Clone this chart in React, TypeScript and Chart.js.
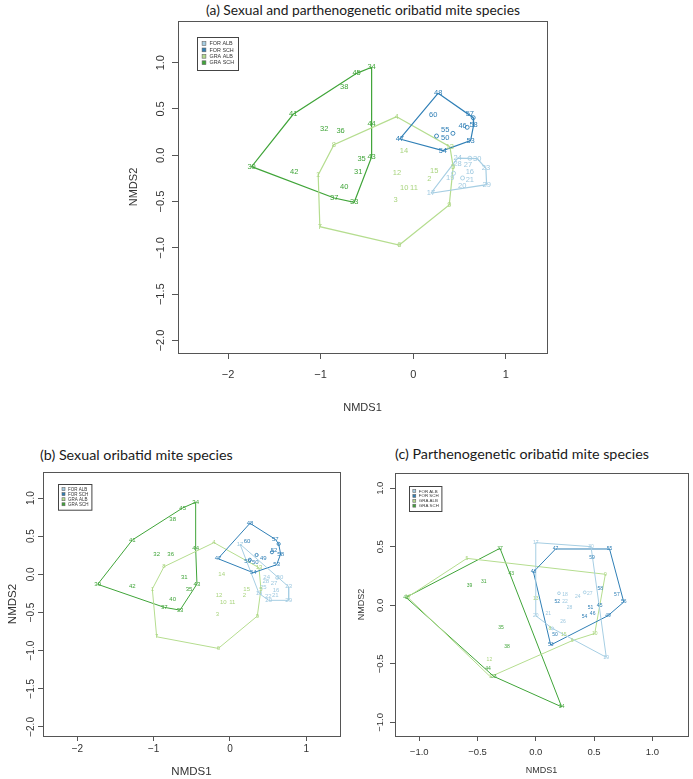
import React, { useEffect, useRef } from "react";
import { Chart, registerables } from "chart.js";
Chart.register(...registerables);

// ---------- groups ----------
const GROUP_NAMES = ["FOR ALB", "FOR SCH", "GRA ALB", "GRA SCH"];
const LINE_COLORS = ["#a6cee3", "#2f7fb6", "#b5dd8f", "#3fa438"];
const TEXT_COLORS = ["#9fc9e0", "#2f7fb6", "#a9d47f", "#3fa438"];

// ---------- panel (a): all species ----------
const A_FA_ID = ["24", "30", "23", "29", "17", "28", "27", "16", "21", "20", "19", "o1", "o2", "o3"];
const A_FA_X = [0.48, 0.691, 0.785, 0.793, 0.191, 0.479, 0.591, 0.612, 0.612, 0.529, 0.4, 0.612, 0.533, 0.436];
const A_FA_Y = [-0.03, -0.036, -0.141, -0.317, -0.41, -0.094, -0.108, -0.184, -0.267, -0.328, -0.249, -0.032, -0.245, -0.194];
const A_FA_HULL = ["17", "24", "30", "23", "29"];

const A_FS_ID = ["48", "60", "57", "46", "58", "55", "50", "53", "54", "47", "o1", "o2", "o3", "o4"];
const A_FS_X = [0.27, 0.216, 0.612, 0.533, 0.652, 0.346, 0.345, 0.62, 0.32, -0.144, 0.648, 0.429, 0.252, 0.583];
const A_FS_Y = [0.67, 0.432, 0.446, 0.316, 0.324, 0.273, 0.183, 0.158, 0.05, 0.176, 0.406, 0.237, 0.208, 0.302];
const A_FS_HULL = ["48", "o1", "58", "53", "54", "47"];

const A_GA_ID = ["4", "8", "1", "7", "6", "9", "5", "13", "14", "12", "15", "2", "10", "11", "3"];
const A_GA_X = [-0.179, -0.856, -1.026, -1.008, -0.151, 0.389, 0.432, 0.396, -0.1, -0.176, 0.227, 0.173, -0.097, 0.008, -0.19];
const A_GA_Y = [0.417, 0.115, -0.213, -0.771, -0.969, -0.537, -0.123, 0.093, 0.046, -0.188, -0.166, -0.256, -0.357, -0.357, -0.486];
const A_GA_HULL = ["4", "13", "5", "9", "6", "7", "1", "8"];

const A_GS_ID = ["34", "45", "38", "41", "32", "36", "44", "43", "35", "31", "39", "42", "40", "37", "33"];
const A_GS_X = [-0.449, -0.611, -0.745, -1.296, -0.961, -0.784, -0.449, -0.449, -0.557, -0.594, -1.745, -1.285, -0.745, -0.853, -0.637];
const A_GS_Y = [0.95, 0.885, 0.738, 0.443, 0.284, 0.262, 0.341, -0.018, -0.043, -0.177, -0.123, -0.184, -0.342, -0.461, -0.508];
const A_GS_HULL = ["34", "45", "41", "39", "37", "33", "43", "44"];

// ---------- panel (b): sexual species ----------
const B_FA_ID = ["17", "24", "30", "28", "27", "23", "16", "25", "19", "22", "21", "20", "29", "o1"];
const B_FA_X = [0.131, 0.481, 0.655, 0.47, 0.577, 0.769, 0.603, 0.437, 0.38, 0.502, 0.594, 0.507, 0.769, 0.62];
const B_FA_Y = [0.397, -0.045, -0.045, -0.09, -0.118, -0.163, -0.206, -0.171, -0.249, -0.285, -0.281, -0.341, -0.341, -0.045];
const B_FA_HULL = ["17", "23", "29", "20", "19"];

const B_FS_ID = ["48", "60", "57", "52", "58", "49", "50", "59", "53", "54", "47", "o1", "o2", "o3", "o4"];
const B_FS_X = [0.262, 0.223, 0.594, 0.577, 0.664, 0.437, 0.332, 0.232, 0.612, 0.305, -0.157, 0.638, 0.55, 0.349, 0.26];
const B_FS_Y = [0.669, 0.437, 0.459, 0.319, 0.266, 0.21, 0.152, 0.166, 0.126, 0.021, 0.205, 0.398, 0.29, 0.253, 0.19];
const B_FS_HULL = ["48", "57", "o1", "58", "53", "54", "47"];

const B_GA_ID = ["4", "8", "1", "7", "6", "9", "5", "13", "14", "15", "12", "2", "10", "11", "3"];
const B_GA_X = [-0.21, -0.865, -1.018, -0.961, -0.153, 0.358, 0.406, 0.38, -0.109, 0.219, -0.144, 0.188, -0.087, 0.03, -0.166];
const B_GA_Y = [0.415, 0.1, -0.193, -0.819, -0.971, -0.547, -0.193, 0.087, 0.0, -0.193, -0.281, -0.281, -0.368, -0.368, -0.525];
const B_GA_HULL = ["4", "13", "5", "9", "6", "7", "1", "8"];

const B_GS_ID = ["34", "45", "38", "41", "32", "36", "44", "31", "43", "35", "39", "42", "40", "37", "33"];
const B_GS_X = [-0.45, -0.62, -0.751, -1.28, -0.961, -0.777, -0.45, -0.599, -0.433, -0.537, -1.734, -1.28, -0.751, -0.861, -0.655];
const B_GS_Y = [0.945, 0.87, 0.722, 0.45, 0.266, 0.262, 0.341, -0.039, -0.127, -0.193, -0.131, -0.154, -0.328, -0.433, -0.469];
const B_GS_HULL = ["34", "45", "41", "39", "37", "33", "43", "44"];

// ---------- panel (c): parthenogenetic species ----------
const C_FA_ID = ["17", "30", "29", "20", "18", "24", "27", "22", "28", "21", "26", "o1", "o2", "o3"];
const C_FA_X = [0.0, 0.474, 0.605, 0.0, 0.25, 0.361, 0.463, 0.25, 0.29, 0.108, 0.233, 0.199, 0.42, 0.142];
const C_FA_Y = [0.535, 0.501, -0.444, -0.089, 0.094, 0.074, 0.103, 0.031, -0.02, -0.074, -0.14, 0.103, 0.111, -0.197];
const C_FA_HULL = ["17", "30", "29", "o3", "20"];

const C_FS_ID = ["47", "55", "59", "48", "58", "57", "56", "52", "51", "45", "46", "54", "49", "50", "53"];
const C_FS_X = [0.17, 0.633, 0.483, -0.02, 0.554, 0.696, 0.755, 0.184, 0.469, 0.548, 0.488, 0.418, 0.619, 0.165, 0.128];
const C_FS_Y = [0.481, 0.481, 0.407, 0.285, 0.145, 0.094, 0.028, 0.031, -0.017, -0.006, -0.068, -0.097, -0.089, -0.248, -0.339];
const C_FS_HULL = ["47", "55", "56", "49", "53", "48"];

const C_GA_ID = ["5", "9", "10", "6", "1", "14", "12", "13", "15", "8"];
const C_GA_X = [-0.591, 0.597, 0.506, 0.312, -0.39, -1.1, -0.398, 0.0, 0.241, 0.12];
const C_GA_Y = [0.401, 0.265, -0.24, -0.302, -0.61, 0.07, -0.462, 0.054, -0.254, -0.2];
const C_GA_HULL = ["5", "9", "10", "6", "1", "14"];

const C_GS_ID = ["37", "43", "39", "31", "35", "38", "44", "33", "34", "42"];
const C_GS_X = [-0.307, -0.211, -0.569, -0.447, -0.298, -0.247, -0.409, -0.361, 0.222, -1.114];
const C_GS_Y = [0.487, 0.274, 0.168, 0.202, -0.191, -0.354, -0.538, -0.607, -0.867, 0.068];
const C_GS_HULL = ["37", "34", "33", "42"];

// ---------- tick labels ----------
const X_TICKS_AB = [-2, -1, 0, 1];
const Y_TICKS_AB = [-2, -1.5, -1, -0.5, 0, 0.5, 1];
const X_TICKS_C = [-1, -0.5, 0, 0.5, 1];
const Y_TICKS_C = [-1, -0.5, 0, 0.5, 1];

const TITLE_A = "(a) Sexual and parthenogenetic oribatid mite species";
const TITLE_B = "(b) Sexual oribatid mite species";
const TITLE_C = "(c) Parthenogenetic oribatid mite species";

const AXIS_COLOR = "#555";
const TEXT_COLOR = "#333";
const SANS = "'Liberation Sans', Arial, sans-serif";

function fmt(v: number, dec: number) {
  const r = Math.abs(v) < 1e-9 ? 0 : v;
  return r.toFixed(dec).replace("-", "\u2212");
}

type Group = { ids: string[]; xs: number[]; ys: number[]; hull: string[] };
const grp = (ids: string[], xs: number[], ys: number[], hull: string[]): Group => ({ ids, xs, ys, hull });

const PANEL_A = {
  canvas: { left: 100, top: 0, width: 500, height: 420 },
  pad: { left: 20, top: 21, right: 53, bottom: 0 },
  yAxisWidth: 58, xAxisHeight: 67,
  xMin: -2.54, xMax: 1.445, yMin: -2.135, yMax: 1.45,
  xTicks: X_TICKS_AB, yTicks: Y_TICKS_AB, xDec: 0, yDec: 1,
  tickSize: 11, tickLen: 6, xTickPad: 9, yLabelOffset: 17.5,
  titleSize: 11, yTitlePad: 7.4, xTitlePad: 5.4,
  labelSize: 7.5, lineWidth: 1.2, markerR: 2,
  legend: { dx: 19, dy: 16, w: 41, h: 33, size: 5.4, top0: 6.5, step: 6.4, sqX: 7, sqS: 3.8, textX: 12.5 },
  groups: [
    grp(A_FA_ID, A_FA_X, A_FA_Y, A_FA_HULL),
    grp(A_FS_ID, A_FS_X, A_FS_Y, A_FS_HULL),
    grp(A_GA_ID, A_GA_X, A_GA_Y, A_GA_HULL),
    grp(A_GS_ID, A_GS_X, A_GS_Y, A_GS_HULL),
  ],
};

const PANEL_B = {
  canvas: { left: 0, top: 465, width: 350, height: 314 },
  pad: { left: 2, top: 7, right: 10, bottom: 0 },
  yAxisWidth: 41, xAxisHeight: 43,
  xMin: -2.451, xMax: 1.442, yMin: -2.119, yMax: 1.341,
  xTicks: X_TICKS_AB, yTicks: Y_TICKS_AB, xDec: 0, yDec: 1,
  tickSize: 10, tickLen: 5, xTickPad: 2, yLabelOffset: 11.5,
  titleSize: 11.5, yTitlePad: 3.8, xTitlePad: 0.4,
  labelSize: 6, lineWidth: 1, markerR: 1.6,
  legend: { dx: 15.3, dy: 12.3, w: 33.4, h: 25.7, size: 4.5, top0: 5.1, step: 5.05, sqX: 5.5, sqS: 3, textX: 10 },
  groups: [
    grp(B_FA_ID, B_FA_X, B_FA_Y, B_FA_HULL),
    grp(B_FS_ID, B_FS_X, B_FS_Y, B_FS_HULL),
    grp(B_GA_ID, B_GA_X, B_GA_Y, B_GA_HULL),
    grp(B_GS_ID, B_GS_X, B_GS_Y, B_GS_HULL),
  ],
};

const PANEL_C = {
  canvas: { left: 350, top: 465, width: 343, height: 314 },
  pad: { left: 3, top: 8, right: 3, bottom: 0 },
  yAxisWidth: 42, xAxisHeight: 43,
  xMin: -1.208, xMax: 1.307, yMin: -1.116, yMax: 1.13,
  xTicks: X_TICKS_C, yTicks: Y_TICKS_C, xDec: 1, yDec: 1,
  tickSize: 9.5, tickLen: 5, xTickPad: 6, yLabelOffset: 15,
  titleSize: 9, yTitlePad: 3.3, xTitlePad: 2.6,
  labelSize: 5, lineWidth: 1, markerR: 1.4,
  legend: { dx: 14.3, dy: 13, w: 32.4, h: 25, size: 4.4, top0: 5, step: 4.9, sqX: 5.3, sqS: 2.9, textX: 9.8 },
  groups: [
    grp(C_FA_ID, C_FA_X, C_FA_Y, C_FA_HULL),
    grp(C_FS_ID, C_FS_X, C_FS_Y, C_FS_HULL),
    grp(C_GA_ID, C_GA_X, C_GA_Y, C_GA_HULL),
    grp(C_GS_ID, C_GS_X, C_GS_Y, C_GS_HULL),
  ],
};

function makePlugin(cfg: any) {
  return {
    id: "panelDecor",
    afterDatasetsDraw(chart: any) {
      const ctx = chart.ctx;
      chart.data.datasets.forEach((ds: any, di: number) => {
        if (!ds.isPoints) return;
        const meta = chart.getDatasetMeta(di);
        ctx.save();
        ctx.font = `${cfg.labelSize}px ${SANS}`;
        ctx.fillStyle = ds.textColor;
        ctx.textAlign = "center";
        ctx.textBaseline = "middle";
        meta.data.forEach((el: any, j: number) => {
          const id = ds.data[j].id as string;
          if (id.startsWith("o")) return;
          ctx.fillText(id, el.x, el.y);
        });
        ctx.restore();
      });
    },
    afterDraw(chart: any) {
      const { ctx, chartArea: a } = chart;
      ctx.save();
      ctx.strokeStyle = AXIS_COLOR;
      ctx.lineWidth = 1;
      ctx.strokeRect(Math.round(a.left) + 0.5, Math.round(a.top) + 0.5, Math.round(a.right - a.left), Math.round(a.bottom - a.top));
      // rotated y tick labels
      const ys = chart.scales.y;
      ctx.font = `${cfg.tickSize}px ${SANS}`;
      ctx.fillStyle = TEXT_COLOR;
      ctx.textAlign = "center";
      ctx.textBaseline = "middle";
      cfg.yTicks.forEach((v: number) => {
        const py = ys.getPixelForValue(v);
        ctx.save();
        ctx.translate(a.left - cfg.yLabelOffset, py);
        ctx.rotate(-Math.PI / 2);
        ctx.fillText(fmt(v, cfg.yDec), 0, 0);
        ctx.restore();
      });
      // legend
      const L = cfg.legend;
      const lx = Math.round(a.left + L.dx);
      const ly = Math.round(a.top + L.dy);
      ctx.fillStyle = "#fff";
      ctx.fillRect(lx, ly, L.w, L.h);
      ctx.strokeStyle = "#444";
      ctx.lineWidth = 1;
      ctx.strokeRect(lx + 0.5, ly + 0.5, L.w, L.h);
      ctx.font = `${L.size}px ${SANS}`;
      ctx.textAlign = "left";
      ctx.textBaseline = "middle";
      GROUP_NAMES.forEach((name, i) => {
        const cy = ly + L.top0 + i * L.step;
        ctx.fillStyle = LINE_COLORS[i];
        ctx.fillRect(lx + L.sqX - L.sqS / 2, cy - L.sqS / 2, L.sqS, L.sqS);
        ctx.strokeStyle = "#666";
        ctx.lineWidth = 0.6;
        ctx.strokeRect(lx + L.sqX - L.sqS / 2, cy - L.sqS / 2, L.sqS, L.sqS);
        ctx.fillStyle = TEXT_COLOR;
        ctx.fillText(name, lx + L.textX, cy + 0.3);
      });
      ctx.restore();
    },
  };
}

function buildDatasets(cfg: any) {
  const out: any[] = [];
  cfg.groups.forEach((g: Group, gi: number) => {
    const pts = g.ids.map((id, i) => ({ x: g.xs[i], y: g.ys[i], id }));
    const hull = g.hull.map((id) => pts.find((p) => p.id === id)!).filter(Boolean);
    if (hull.length) hull.push(hull[0]);
    out.push({
      data: hull,
      showLine: true,
      borderColor: LINE_COLORS[gi],
      borderWidth: cfg.lineWidth,
      pointRadius: 0,
      fill: false,
      tension: 0,
    });
    out.push({
      data: pts,
      showLine: false,
      isPoints: true,
      textColor: TEXT_COLORS[gi],
      pointStyle: "circle",
      pointRadius: pts.map((p) => (p.id.startsWith("o") ? cfg.markerR : 0)),
      borderColor: LINE_COLORS[gi],
      backgroundColor: "rgba(0,0,0,0)",
      borderWidth: 0.9,
    });
  });
  return out;
}

function PanelChart({ cfg }: { cfg: any }) {
  const ref = useRef<HTMLCanvasElement>(null);
  useEffect(() => {
    if (!ref.current) return;
    const chart = new Chart(ref.current, {
      type: "scatter",
      data: { datasets: buildDatasets(cfg) },
      options: {
        animation: false,
        responsive: false,
        maintainAspectRatio: false,
        events: [],
        layout: { padding: cfg.pad },
        plugins: { legend: { display: false }, tooltip: { enabled: false }, title: { display: false } },
        scales: {
          x: {
            type: "linear",
            min: cfg.xMin,
            max: cfg.xMax,
            afterBuildTicks: (s: any) => {
              s.ticks = cfg.xTicks.map((v: number) => ({ value: v }));
            },
            afterFit: (s: any) => {
              s.height = cfg.xAxisHeight;
            },
            grid: { display: true, drawOnChartArea: false, drawTicks: true, tickLength: cfg.tickLen, color: AXIS_COLOR, lineWidth: 1 },
            border: { display: false },
            ticks: {
              autoSkip: false,
              maxRotation: 0,
              minRotation: 0,
              padding: cfg.xTickPad,
              color: TEXT_COLOR,
              font: { family: SANS, size: cfg.tickSize },
              callback: (v: any) => fmt(Number(v), cfg.xDec),
            },
            title: {
              display: true,
              text: "NMDS1",
              color: TEXT_COLOR,
              font: { family: SANS, size: cfg.titleSize },
              padding: { top: 0, bottom: cfg.xTitlePad },
            },
          },
          y: {
            type: "linear",
            min: cfg.yMin,
            max: cfg.yMax,
            afterBuildTicks: (s: any) => {
              s.ticks = cfg.yTicks.map((v: number) => ({ value: v }));
            },
            afterFit: (s: any) => {
              s.width = cfg.yAxisWidth;
            },
            grid: { display: true, drawOnChartArea: false, drawTicks: true, tickLength: cfg.tickLen, color: AXIS_COLOR, lineWidth: 1 },
            border: { display: false },
            ticks: { display: false },
            title: {
              display: true,
              text: "NMDS2",
              color: TEXT_COLOR,
              font: { family: SANS, size: cfg.titleSize },
              padding: { top: cfg.yTitlePad, bottom: 0 },
            },
          },
        },
      },
      plugins: [makePlugin(cfg)],
    } as any);
    return () => chart.destroy();
  }, [cfg]);
  const c = cfg.canvas;
  return (
    <canvas
      ref={ref}
      width={c.width}
      height={c.height}
      style={{ position: "absolute", left: c.left, top: c.top, width: c.width, height: c.height }}
    />
  );
}

const titleFont = "Lato, 'Open Sans', sans-serif";

export default function App() {
  return (
    <div style={{ position: "absolute", left: 0, top: 0, width: 693, height: 779, overflow: "hidden", background: "#fff" }}>
      <div style={{ position: "absolute", left: 363, top: 1, transform: "translateX(-50%)", whiteSpace: "nowrap", fontFamily: titleFont, fontSize: 13.8, color: "#1a1a1a" }}>
        {TITLE_A}
      </div>
      <div style={{ position: "absolute", left: 40, top: 446, whiteSpace: "nowrap", fontFamily: titleFont, fontSize: 14.3, color: "#1a1a1a" }}>
        {TITLE_B}
      </div>
      <div style={{ position: "absolute", left: 395, top: 445, whiteSpace: "nowrap", fontFamily: titleFont, fontSize: 14.3, color: "#1a1a1a" }}>
        {TITLE_C}
      </div>
      <PanelChart cfg={PANEL_A} />
      <PanelChart cfg={PANEL_B} />
      <PanelChart cfg={PANEL_C} />
    </div>
  );
}
